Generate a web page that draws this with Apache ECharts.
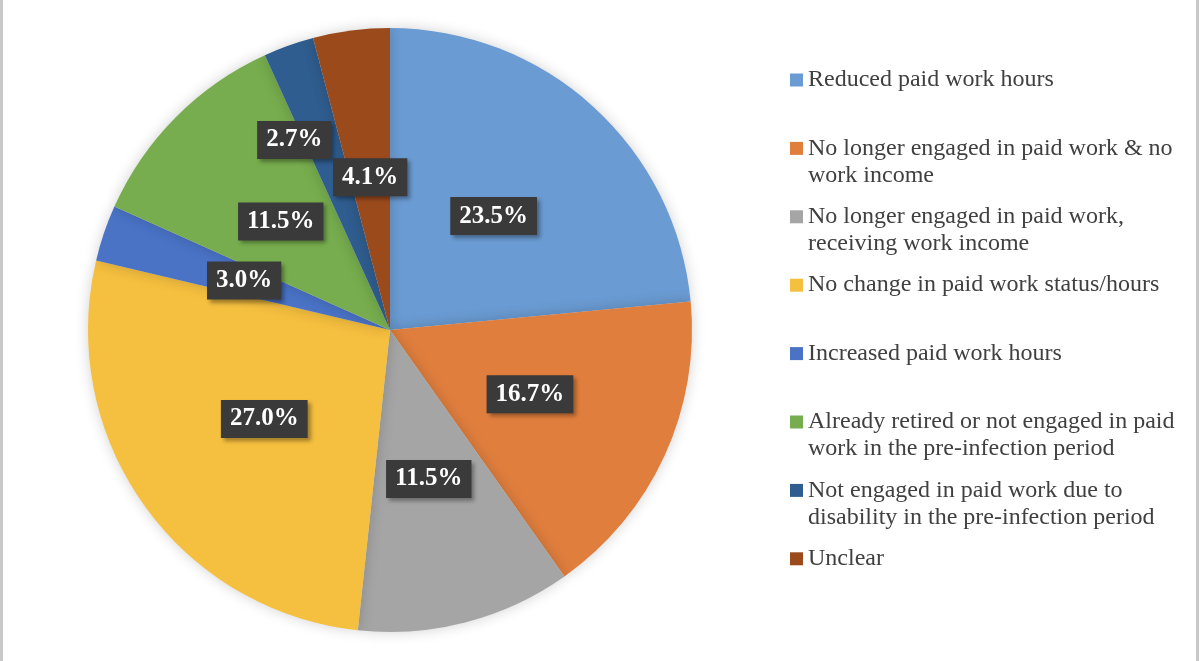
<!DOCTYPE html>
<html>
<head>
<meta charset="utf-8">
<script src="https://cdn.jsdelivr.net/npm/echarts@6/dist/echarts.min.js"></script>
<style>
  html, body { margin: 0; padding: 0; background: #fff; }
  #chart { width: 1200px; height: 661px; position: relative; }
  .edge { position: absolute; top: 0; bottom: 0; width: 3px; background: #c8c8c8; }
</style>
</head>
<body>
<div id="chart"></div>
<div class="edge" style="left:0"></div>
<div class="edge" style="left:1196px"></div>
<script>
// categories, values (%), colours
var categories = [
  'Reduced paid work hours',
  'No longer engaged in paid work & no\nwork income',
  'No longer engaged in paid work,\nreceiving work income',
  'No change in paid work status/hours',
  'Increased paid work hours',
  'Already retired or not engaged in paid\nwork in the pre-infection period',
  'Not engaged in paid work due to\ndisability in the pre-infection period',
  'Unclear'
];
var values = [23.5, 16.7, 11.5, 27.0, 3.0, 11.5, 2.7, 4.1];
var colors = ['#6a9bd2', '#e07e3e', '#a5a5a5', '#f5bf3f', '#4a73c6', '#77ad4e', '#2f5d8f', '#9b4a1c'];

var chart = echarts.init(document.getElementById('chart'));

// legend: one per item so the rows stay evenly spaced
var lineH = 27;
var firstRowY = 75, rowStep = 68.4;
var legends = categories.map(function (name, i) {
  var twoLines = name.indexOf('\n') >= 0;
  var cy = firstRowY + i * rowStep;
  return {
    data: [name],
    orient: 'vertical',
    left: 785,
    top: twoLines ? cy - 1.5 * lineH : cy - 0.5 * lineH,
    icon: 'rect',
    itemWidth: 13,
    itemHeight: 13,
    itemGap: 0,
    selectedMode: false,
    // empty first line keeps the marker level with the first text line
    formatter: function (n) { return n.indexOf('\n') >= 0 ? '\n' + n : n; },
    textStyle: {
      fontFamily: 'Liberation Serif',
      fontSize: 24,
      lineHeight: lineH,
      color: '#404040'
    }
  };
});

var option = {
  animation: false,
  color: colors,
  legend: legends,
  series: [{
    type: 'pie',
    center: [390, 330],
    radius: 302,
    startAngle: 90,
    clockwise: true,
    itemStyle: {
      shadowBlur: 14,
      shadowColor: 'rgba(0,0,0,0.18)'
    },
    label: {
      show: true,
      position: 'inner',
      formatter: function (p) { return p.value.toFixed(1) + '%'; },
      fontFamily: 'Liberation Serif',
      fontWeight: 'bold',
      fontSize: 25,
      lineHeight: 26,
      color: '#fff',
      backgroundColor: '#3a3a3a',
      padding: [6, 9, 6, 9],
      shadowBlur: 4,
      shadowOffsetX: 3,
      shadowOffsetY: 3,
      shadowColor: 'rgba(0,0,0,0.35)'
    },
    labelLayout: function (p) {
      if (p.dataIndex === 6) {
        return { dx: -44, dy: -45 };
      }
      return {};
    },
    data: categories.map(function (name, i) {
      return { name: name, value: values[i] };
    })
  }]
};

chart.setOption(option);
</script>
</body>
</html>
